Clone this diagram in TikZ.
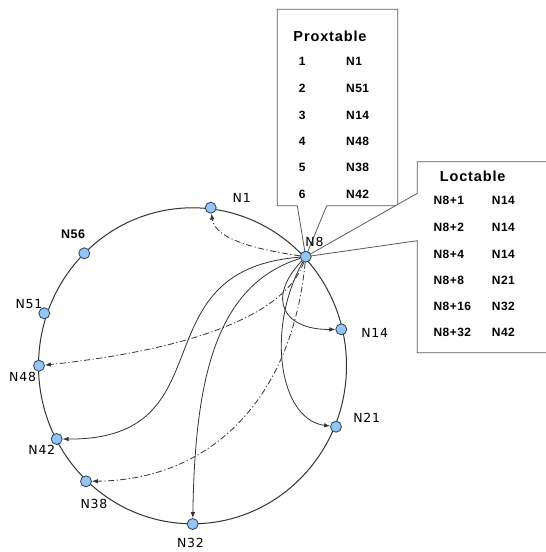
\documentclass[tikz,border=0pt]{standalone}
\usepackage{fontspec}
\setmainfont{Liberation Sans}
\newfontfamily\lblfont[LetterSpace=6]{DejaVu Sans}
\newfontfamily\tblfont[LetterSpace=4]{Liberation Sans}
\newfontfamily\ttlfont[LetterSpace=6]{Liberation Sans}
\usetikzlibrary{arrows.meta}
\definecolor{nodefill}{HTML}{92C5F5}
\definecolor{nodeborder}{HTML}{2E3F52}
\definecolor{linegray}{HTML}{333333}
\definecolor{boxgray}{HTML}{5A5A5A}
\begin{document}
\begin{tikzpicture}[x=1pt,y=-1pt,
  ringnode/.style={circle, draw=nodeborder, fill=nodefill, line width=0.8pt, minimum size=11pt, inner sep=0pt},
  lbl/.style={font=\lblfont\fontsize{12.5}{14}\selectfont, inner sep=0pt},
  boldlbl/.style={font=\tblfont\bfseries\fontsize{12.5}{14}\selectfont, inner sep=0pt},
  tbl/.style={font=\tblfont\bfseries\fontsize{12}{14}\selectfont, inner sep=0pt, anchor=west},
  num/.style={font=\tblfont\bfseries\fontsize{12}{14}\selectfont, inner sep=0pt},
  ttl/.style={font=\ttlfont\bfseries\fontsize{14.5}{16}\selectfont, inner sep=0pt},
  callout/.style={draw=boxgray, fill=white, line width=0.8pt, line join=miter},
  ring/.style={draw=linegray, line width=1pt},
  link/.style={draw=linegray, line width=0.8pt, -{Latex[length=6pt,width=4.5pt]}},
  dlink/.style={link, dash pattern=on 6pt off 2.5pt on 1.2pt off 2.5pt}
]
\useasboundingbox (0,0) rectangle (546,552);
\clip (0,0) rectangle (546,552);

% ring node coordinates
\coordinate (c1) at (210.7,207.7);
\coordinate (c8) at (305.7,256.7);
\coordinate (c14) at (341.3,329.3);
\coordinate (c21) at (336,426.7);
\coordinate (c32) at (192.7,524);
\coordinate (c38) at (86,481.3);
\coordinate (c42) at (56.7,439);
\coordinate (c48) at (39,365.7);
\coordinate (c51) at (44.3,313.3);
\coordinate (c56) at (84.3,253.3);
\coordinate (ringc) at (192.5,365.8);

% callouts
\draw[callout] (297.3,205.7) -- (277.3,205.7) -- (277.3,9.3) -- (397.7,9.3)
   -- (397.7,205.7) -- (326.7,205.7) -- (c8) -- cycle;
\draw[callout] (417.3,193.3) -- (417.3,161.7) -- (570,161.7) -- (570,352.7)
   -- (417.3,352.7) -- (417.3,240.7) -- (c8) -- cycle;

% Proxtable
\node[ttl] (ptitle) at (330,36.7) {Proxtable};
\node[num] (p1a) at (302.3,61.7) {1};   \node[tbl] (p1b) at (346,61.7) {N1};
\node[num] (p2a) at (302.3,88.7) {2};   \node[tbl] (p2b) at (346,88.7) {N51};
\node[num] (p3a) at (302.3,115) {3};    \node[tbl] (p3b) at (346,115) {N14};
\node[num] (p4a) at (302.3,141.7) {4};  \node[tbl] (p4b) at (346,141.7) {N48};
\node[num] (p5a) at (302.3,167.7) {5};  \node[tbl] (p5b) at (346,167.7) {N38};
\node[num] (p6a) at (302.3,194) {6};    \node[tbl] (p6b) at (346,194) {N42};

% Loctable
\node[ttl] (ltitle) at (472.7,176) {Loctable};
\node[tbl] (l1a) at (433.3,200.7) {N8+1};  \node[tbl] (l1b) at (491.7,200.7) {N14};
\node[tbl] (l2a) at (433.3,227.3) {N8+2};  \node[tbl] (l2b) at (491.7,227.3) {N14};
\node[tbl] (l3a) at (433.3,254) {N8+4};    \node[tbl] (l3b) at (491.7,254) {N14};
\node[tbl] (l4a) at (433.3,280) {N8+8};    \node[tbl] (l4b) at (491.7,280) {N21};
\node[tbl] (l5a) at (433.3,306) {N8+16};   \node[tbl] (l5b) at (491.7,306) {N32};
\node[tbl] (l6a) at (433.3,332) {N8+32};   \node[tbl] (l6b) at (491.7,332) {N42};

% ring
\draw[ring] (ringc) ellipse [x radius=154pt, y radius=158pt];

% nodes
\node[ringnode] (n1) at (c1) {};
\node[ringnode] (n8) at (c8) {};
\node[ringnode] (n14) at (c14) {};
\node[ringnode] (n21) at (c21) {};
\node[ringnode] (n32) at (c32) {};
\node[ringnode] (n38) at (c38) {};
\node[ringnode] (n42) at (c42) {};
\node[ringnode] (n48) at (c48) {};
\node[ringnode] (n51) at (c51) {};
\node[ringnode] (n56) at (c56) {};

% connectors
\draw[dlink] (n8) .. controls (260,250) and (215,240) .. (n1);
\draw[dlink] (n8) .. controls (280,330) and (140,355) .. (n48);
\draw[dlink] (n8) .. controls (292,400) and (210,480) .. (n38);
\draw[link] (n8) .. controls (135,270) and (230,440) .. (n42);
\draw[link] (n8) .. controls (215,285) and (195,380) .. (n32);
\draw[link] (n8) .. controls (265,300) and (285,330) .. (n14);
\draw[link] (n8) .. controls (265,330) and (280,420) .. (n21);

% labels
\node[lbl] (t1) at (241.7,197.5) {N1};
\node[lbl] (t8) at (314.5,241.7) {N8};
\node[lbl] (t14) at (374.7,333.3) {N14};
\node[lbl] (t21) at (366.7,418.3) {N21};
\node[lbl] (t32) at (190.4,542.7) {N32};
\node[lbl] (t38) at (94,504.3) {N38};
\node[lbl] (t42) at (41.8,450) {N42};
\node[lbl] (t48) at (22.6,377.3) {N48};
\node[lbl] (t51) at (29,304) {N51};
\node[boldlbl] (t56) at (73,234) {N56};
\end{tikzpicture}
\end{document}
